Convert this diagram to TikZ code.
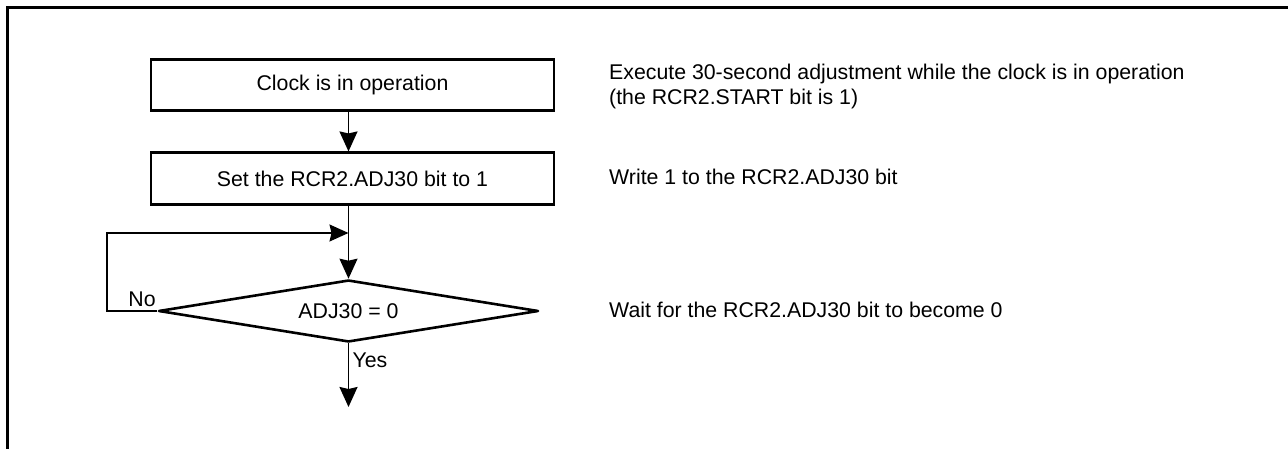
\documentclass[tikz,border=0pt]{standalone}
\usepackage{fontspec}
\setmainfont{Liberation Sans}
\usetikzlibrary{shapes.geometric,arrows.meta}
\begin{document}
\begin{tikzpicture}[x=1pt,y=-1pt,
  every node/.style={font=\fontsize{21.3}{25}\selectfont},
  box/.style={draw,line width=2.6pt,minimum width=403pt,minimum height=51.5pt,inner sep=0pt},
  dec/.style={draw,diamond,aspect=6,line width=2.6pt,line join=round,minimum width=380pt,minimum height=62pt,inner sep=0pt},
  conn/.style={line width=1.8pt,-{Stealth[length=20pt,width=18pt,inset=2pt]}},
  back/.style={line width=1.4pt,-{Stealth[length=19pt,width=17pt,inset=2pt]}},
  note/.style={anchor=base west,inner sep=0pt},
  lbl/.style={inner sep=0pt}]
\useasboundingbox (0,0) rectangle (1288,449);
\draw[line width=3pt,line join=miter] (7.5,449) -- (7.5,7.5) -- (1288,7.5);

\node[box] (b1) at (352.5,85) {Clock is in operation};
\node[box] (b2) at (352.5,178.5) {Set the RCR2.ADJ30 bit to 1};
\node[dec] (d) at (348.5,311) {ADJ30 = 0};

\coordinate (lp) at (107,233);
\coordinate (endp) at (348.5,407);

\draw[conn] (b1.south -| d.north) -- (b2.north -| d.north);
\draw[conn] (b2.south -| d.north) -- (d.north);
\draw[back] (d.west) -| (lp) -- (lp -| d.north);
\draw[conn] (d.south) -- (endp);

\node[lbl] (no) at (142,299) {No};
\node[lbl] (yes) at (370,360) {Yes};

\node[note] (n1) at (609,80) {Execute 30-second adjustment while the clock is in operation};
\node[note] (n1b) at (609,105) {(the RCR2.START bit is 1)};
\node[note] (n2) at (609,185) {Write 1 to the RCR2.ADJ30 bit};
\node[note] (n3) at (609,317) {Wait for the RCR2.ADJ30 bit to become 0};
\end{tikzpicture}
\end{document}
